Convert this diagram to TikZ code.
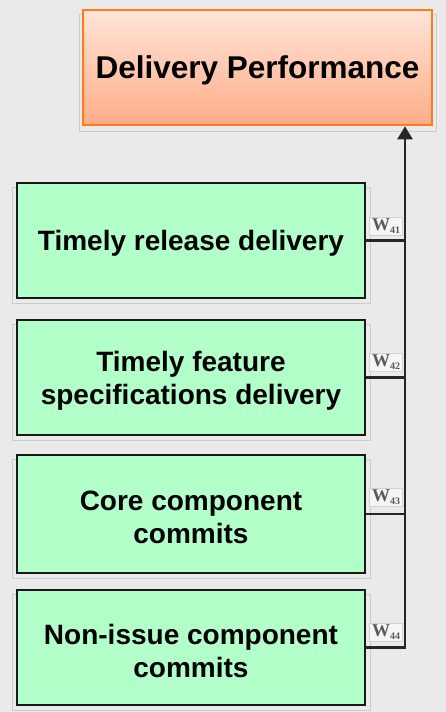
\documentclass[tikz,border=0pt]{standalone}
\usepackage{fontspec}
\usetikzlibrary{arrows.meta}
\setmainfont{Liberation Sans}
\newfontfamily\wfont{Liberation Serif}
\definecolor{bgc}{HTML}{EAEAEA}
\definecolor{greenfill}{HTML}{B3FFCA}
\definecolor{orangeline}{HTML}{FF7A1C}
\definecolor{orangetop}{HTML}{FFE4D8}
\definecolor{orangebot}{HTML}{FFAD88}
\newcommand{\dropstrut}{\rule{0pt}{26.5pt}}
\tikzset{
  factorbox/.style={draw=black!90, line width=2.8pt, fill=greenfill, minimum width=348pt,
    align=center, inner sep=0pt, font=\fontsize{28}{33}\selectfont\bfseries},
  goalbox/.style={draw=orangeline, line width=2.6pt, top color=orangetop, bottom color=orangebot,
    minimum width=349pt, minimum height=115pt, align=center, inner sep=0pt,
    font=\fontsize{31.5}{36}\selectfont\bfseries},
  shadowbox/.style={draw=gray!40, line width=0.8pt},
  wire/.style={draw=black!85, line width=2.6pt},
  wlabel/.style={draw=gray!35, fill=gray!8, line width=0.6pt, inner sep=1pt,
    minimum width=33pt, minimum height=18pt, text=gray!70!black,
    font=\wfont\fontsize{18}{18}\selectfont\bfseries}
}
\begin{document}
\begin{tikzpicture}[x=1pt,y=-1pt]
\useasboundingbox (0,0) rectangle (446,712);
\fill[bgc] (0,0) rectangle (446,712);
% faint shadows
\draw[shadowbox] (79,14) rectangle (436,131);
\draw[shadowbox] (12,187) rectangle (370,303);
\draw[shadowbox] (12,324) rectangle (370,440);
\draw[shadowbox] (12,459) rectangle (370,578);
\draw[shadowbox] (12,594) rectangle (370,710);
% nodes
\node[goalbox] (top) at (257.5,67.5) {\rule{0pt}{29.5pt}Delivery Performance};
\node[factorbox, minimum height=115pt] (b1) at (191,240.5) {\dropstrut Timely release delivery};
\node[factorbox, minimum height=115pt] (b2) at (191,377.5) {\dropstrut Timely feature\\specifications delivery};
\node[factorbox, minimum height=118pt] (b3) at (191,514) {\dropstrut Core component\\commits};
\node[factorbox, minimum height=115pt] (b4) at (191,647.5) {\dropstrut Non-issue component\\commits};
\coordinate (j) at (405,647.5);
% connectors
\draw[wire] (b1.east) -- (b1.east -| j);
\draw[wire] (b2.east) -- (b2.east -| j);
\draw[wire] (b3.east) -- (b3.east -| j);
\draw[wire, -{Triangle[length=13pt,width=15pt]}] (b4.east) -- (j) -- (j |- top.south);
% weight labels
\node[wlabel] (w1) at (386,226) {W\raisebox{-3pt}{\fontsize{10}{10}\selectfont 41}};
\node[wlabel] (w2) at (386,362) {W\raisebox{-3pt}{\fontsize{10}{10}\selectfont 42}};
\node[wlabel] (w3) at (386,497) {W\raisebox{-3pt}{\fontsize{10}{10}\selectfont 43}};
\node[wlabel] (w4) at (386,632) {W\raisebox{-3pt}{\fontsize{10}{10}\selectfont 44}};
\end{tikzpicture}
\end{document}
